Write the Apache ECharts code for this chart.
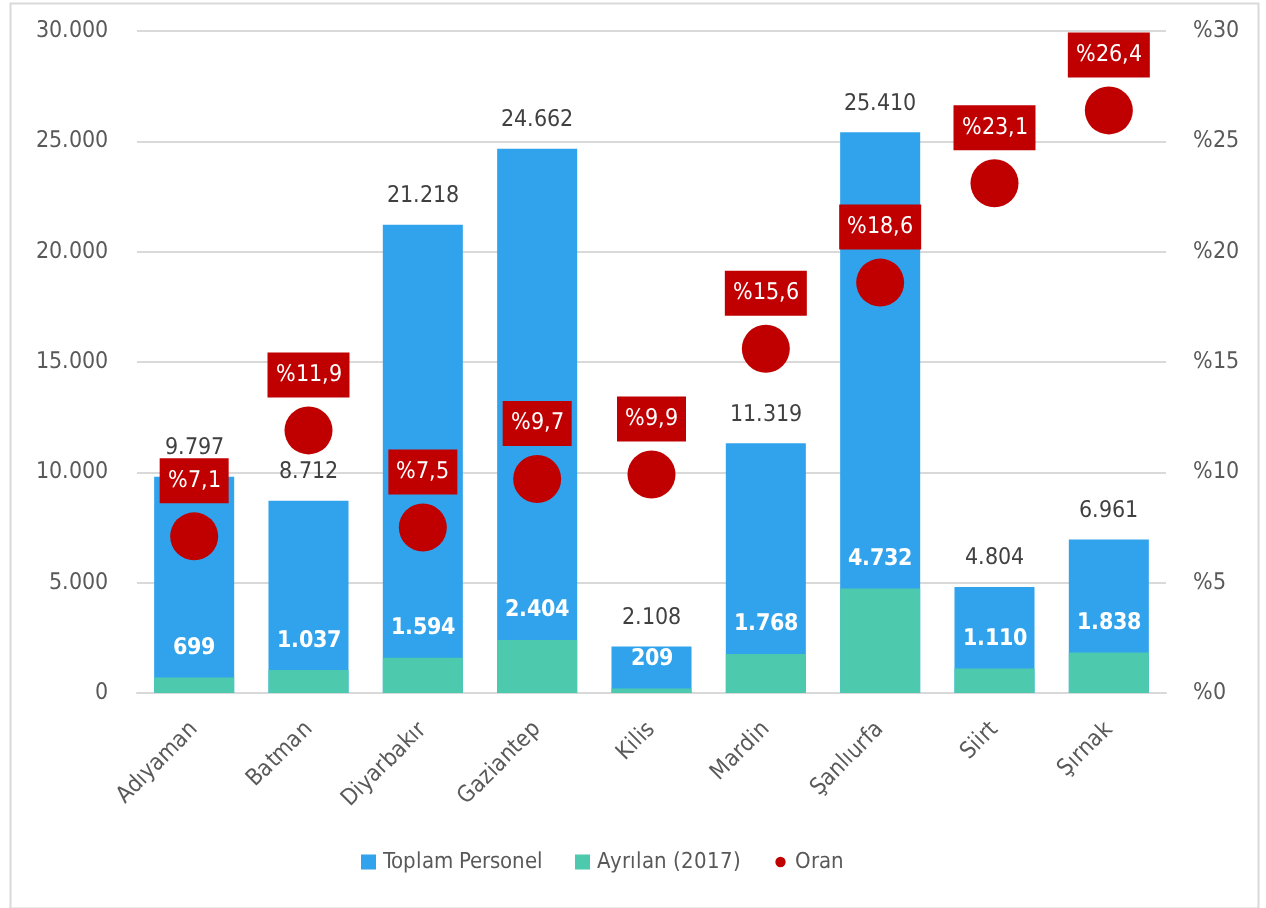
<!DOCTYPE html>
<html>
<head>
<meta charset="utf-8">
<script src="https://cdn.jsdelivr.net/npm/echarts@6/dist/echarts.min.js"></script>
<style>
@font-face { font-family: 'DVCond'; font-weight: normal; src: local('DejaVu Sans Condensed'), local('DejaVuSansCondensed'); }
@font-face { font-family: 'DVCond'; font-weight: bold; src: local('DejaVu Sans Condensed Bold'), local('DejaVuSansCondensed-Bold'); }
html,body{margin:0;padding:0;background:#fff;}
#main{width:1266px;height:908px;}
</style>
</head>
<body>
<div id="main"></div>
<script>
const categories = ['Adıyaman','Batman','Diyarbakır','Gaziantep','Kilis','Mardin','Şanlıurfa','Siirt','Şırnak'];
const toplamPersonel = [9797, 8712, 21218, 24662, 2108, 11319, 25410, 4804, 6961];
const ayrilan = [699, 1037, 1594, 2404, 209, 1768, 4732, 1110, 1838];
const oran = [7.1, 11.9, 7.5, 9.7, 9.9, 15.6, 18.6, 23.1, 26.4];
const leftTicks = [0, 5000, 10000, 15000, 20000, 25000, 30000];
const rightTicks = [0, 5, 10, 15, 20, 25, 30];

function fmt(v){ return String(v).replace(/\B(?=(\d{3})+(?!\d))/g, '.'); }
function pct(v){ return '%' + String(v).replace('.', ','); }

function draw(condOK){
  const FONT = condOK ? 'DVCond' : 'DejaVu Sans';
  const FS = condOK ? 23 : 22;
  const LFS = condOK ? 22 : 20;
  const chart = echarts.init(document.getElementById('main'), null, {renderer:'canvas'});
  chart.setOption({
    animation: false,
    backgroundColor: '#fff',
    textStyle: {fontFamily: FONT},
    graphic: [{
      type: 'rect', left: 8, top: 1, silent: true,
      shape: {width: 1248, height: 905},
      style: {fill: 'none', stroke: '#D9D9D9', lineWidth: 2}
    }],
    grid: {left: 137, right: 100, top: 31, bottom: 215, containLabel: false},
    legend: {
      bottom: 30, left: 356,
      itemWidth: 15, itemHeight: 15, itemGap: 32,
      textStyle: {color: '#595959', fontSize: LFS, fontFamily: FONT, padding: [0, 0, 0, 2]},
      data: [
        {name: 'Toplam Personel', icon: 'rect'},
        {name: 'Ayrılan (2017)', icon: 'rect'},
        {name: 'Oran', icon: 'path://M0,0M16,16M8,2.5A5.5,5.5,0,1,1,7.99,2.5Z', itemStyle: {color: '#C00000'}}
      ]
    },
    xAxis: {
      type: 'category', data: categories,
      axisLine: {lineStyle: {color: '#D9D9D9', width: 2}},
      axisTick: {show: false},
      axisLabel: {rotate: 45, margin: 33, color: '#595959', fontSize: FS, fontFamily: FONT, interval: 0}
    },
    yAxis: [{
      type: 'value', min: leftTicks[0], max: leftTicks[leftTicks.length-1], interval: 5000,
      axisLine: {show: false}, axisTick: {show: false},
      splitLine: {lineStyle: {color: '#D9D9D9', width: 2}},
      axisLabel: {margin: 29, color: '#595959', fontSize: FS, fontFamily: FONT, formatter: v => fmt(v)}
    }, {
      type: 'value', min: rightTicks[0], max: rightTicks[rightTicks.length-1], interval: 5,
      axisLine: {show: false}, axisTick: {show: false}, splitLine: {show: false},
      axisLabel: {margin: 27, color: '#595959', fontSize: FS, fontFamily: FONT, formatter: v => '%' + v}
    }],
    series: [{
      name: 'Toplam Personel', type: 'bar', data: toplamPersonel, barWidth: '70%', barGap: '-100%',
      itemStyle: {color: '#31A3EC'},
      label: {show: true, position: 'top', distance: 17, color: '#404040', fontSize: FS, fontFamily: FONT, formatter: p => fmt(p.value)},
      z: 2
    }, {
      name: 'Ayrılan (2017)', type: 'bar', data: ayrilan, barWidth: '70%', barGap: '-100%',
      itemStyle: {color: '#4DC9AE'},
      label: {show: true, position: 'top', distance: 18, color: '#fff', fontWeight: 'bold', fontSize: FS, fontFamily: FONT, formatter: p => fmt(p.value)},
      z: 3
    }, {
      name: 'Oran', type: 'scatter', yAxisIndex: 1, data: oran, symbol: 'circle', symbolSize: 48,
      itemStyle: {color: '#C00000', opacity: 1},
      label: {show: true, position: 'top', distance: 9, color: '#fff', backgroundColor: '#C00000',
        padding: [11, 8], fontSize: FS, fontFamily: FONT, formatter: p => pct(p.value)},
      z: 4
    }]
  });
}

if (document.fonts && document.fonts.load) {
  Promise.all([document.fonts.load("23px 'DVCond'"), document.fonts.load("bold 23px 'DVCond'")])
    .then(r => draw(r[0] && r[0].length > 0))
    .catch(() => draw(false));
} else {
  draw(false);
}
</script>
</body>
</html>
